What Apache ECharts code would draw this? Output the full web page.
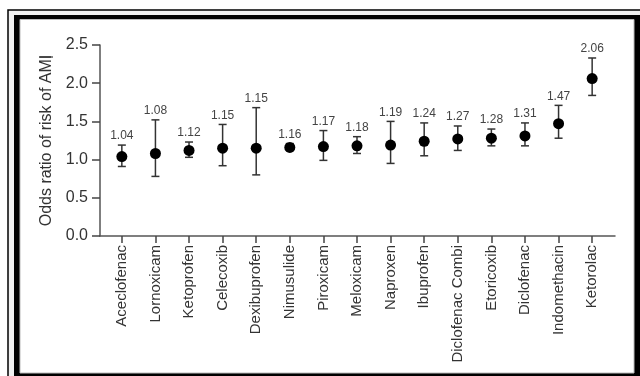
<!DOCTYPE html>
<html>
<head>
<meta charset="utf-8">
<script src="https://cdn.jsdelivr.net/npm/echarts@6/dist/echarts.min.js"></script>
<style>
html,body{margin:0;padding:0;background:#fff;}
#chart{width:640px;height:376px;}
</style>
</head>
<body>
<div id="chart"></div>
<script>
const categories = ['Aceclofenac','Lornoxicam','Ketoprofen','Celecoxib','Dexibuprofen','Nimusulide','Piroxicam','Meloxicam','Naproxen','Ibuprofen','Diclofenac Combi','Etoricoxib','Diclofenac','Indomethacin','Ketorolac'];
const oddsRatio = [1.04,1.08,1.12,1.15,1.15,1.16,1.17,1.18,1.19,1.24,1.27,1.28,1.31,1.47,2.06];
const lowerCI = [0.91,0.78,1.03,0.92,0.80,1.12,0.99,1.08,0.95,1.05,1.12,1.18,1.18,1.28,1.84];
const upperCI = [1.19,1.52,1.23,1.46,1.68,1.21,1.38,1.30,1.50,1.48,1.44,1.40,1.48,1.71,2.33];
const yTicks = [0.0,0.5,1.0,1.5,2.0,2.5];
const yTitle = 'Odds ratio of risk of AMI';

const idx = categories.map((c,i)=>i);
const errData = idx.map(i=>[i, lowerCI[i], upperCI[i], oddsRatio[i]]);
const dotData = idx.map(i=>[i, oddsRatio[i]]);

const chart = echarts.init(document.getElementById('chart'), null, {renderer:'canvas'});
const FONT = 'Liberation Sans, Arial, sans-serif';
const ink = '#333';

chart.setOption({
  animation:false,
  backgroundColor:'#fff',
  graphic:[
    {type:'rect', z:-10, shape:{x:8,y:10,width:640,height:376}, style:{fill:'#f0f0f0', stroke:'#000', lineWidth:1.5}, silent:true},
    {type:'rect', z:-9, shape:{x:14,y:15,width:630,height:370}, style:{fill:'#000'}, silent:true},
    {type:'rect', z:-8, shape:{x:20,y:19.5,width:614,height:353.5}, style:{fill:'#fff', stroke:'#bbb', lineWidth:1}, silent:true},
    {type:'rect', z:-7, shape:{x:40,y:56,width:13,height:2}, style:{fill:'#888'}, silent:true}
  ],
  grid:{left:100, right:25, top:45, bottom:140, outerBoundsMode:'none', containLabel:false},
  xAxis:{
    type:'value', min:-0.65, max:14.68,
    splitLine:{show:false},
    axisLine:{show:true, onZero:false, lineStyle:{color:'#555', width:1.5}},
    axisTick:{show:true, customValues:idx, length:7, lineStyle:{color:'#444', width:1.5}},
    axisLabel:{customValues:idx, rotate:90, margin:9, color:ink, fontFamily:FONT, fontSize:15,
      formatter:v=>categories[Math.round(v)]}
  },
  yAxis:{
    type:'value', min:0, max:2.5, interval:0.5,
    splitLine:{show:false},
    axisLine:{show:true, onZero:false, lineStyle:{color:'#555', width:1.5}},
    axisTick:{show:true, length:8, lineStyle:{color:'#444', width:1.5}},
    axisLabel:{margin:12, color:ink, fontFamily:FONT, fontSize:16, formatter:v=>v.toFixed(1)},
    name:yTitle, nameLocation:'middle', nameGap:45, nameMoveOverlap:false,
    nameTextStyle:{color:ink, fontFamily:FONT, fontSize:16}
  },
  series:[
    {
      type:'custom',
      data:errData,
      encode:{x:0, y:[1,2]},
      z:2,
      renderItem:function(params, api){
        const x = api.value(0);
        const lo = api.coord([x, api.value(1)]);
        const hi = api.coord([x, api.value(2)]);
        const cx = lo[0];
        const hw = 4;
        const st = {stroke:'#333', lineWidth:1.5};
        return {type:'group', children:[
          {type:'line', shape:{x1:cx,y1:lo[1],x2:cx,y2:hi[1]}, style:st},
          {type:'line', shape:{x1:cx-hw,y1:lo[1],x2:cx+hw,y2:lo[1]}, style:st},
          {type:'line', shape:{x1:cx-hw,y1:hi[1],x2:cx+hw,y2:hi[1]}, style:st},
          {type:'text', style:{x:cx, y:hi[1]-3, text:api.value(3).toFixed(2), align:'center', verticalAlign:'bottom',
            fill:'#444', font:'12px Liberation Sans, Arial, sans-serif'}}
        ]};
      }
    },
    {
      type:'scatter',
      data:dotData,
      symbol:'circle',
      symbolSize:11,
      z:3,
      itemStyle:{color:'#000', opacity:1}
    }
  ]
});
</script>
</body>
</html>
